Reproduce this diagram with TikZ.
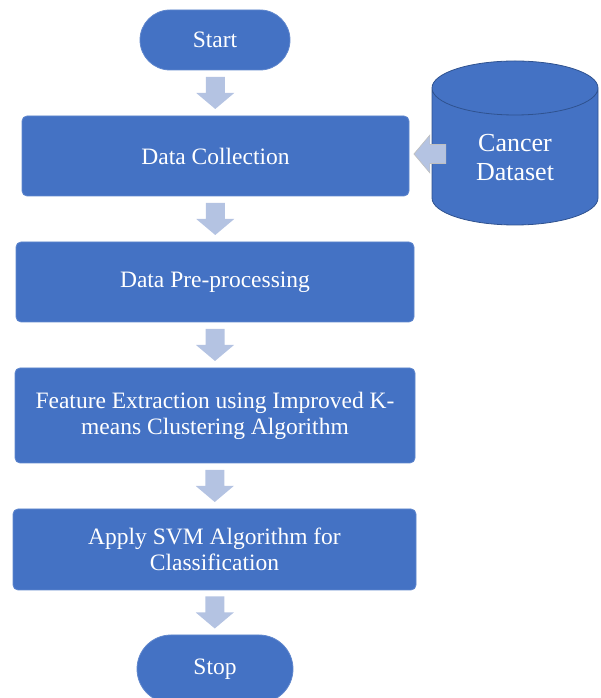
\documentclass[tikz,border=0pt]{standalone}
\usepackage{fontspec}
\setmainfont{Liberation Serif}
\usetikzlibrary{calc}
\definecolor{boxblue}{HTML}{4472C4}
\definecolor{boxedge}{HTML}{2F528F}
\definecolor{arrowblue}{HTML}{B4C3E2}
\tikzset{
  stepbox/.style={fill=boxblue,draw=boxblue!85!white,line width=0.8pt,rounded corners=5pt,
    text=white,align=center,font=\fontsize{23.5}{26}\selectfont},
  terminal/.style={stepbox,rounded corners=30pt},
  downarrow/.pic={\path[pic actions,fill=arrowblue] (-9.5,16)--(9.5,16)--(9.5,0)--(19,0)--(0,-16)--(-19,0)--(-9.5,0)--cycle;}
}
\begin{document}
\begin{tikzpicture}[x=1pt,y=1pt]
  \useasboundingbox (0,0) rectangle (600,698);
  % flow boxes
  \node[terminal,minimum width=150,minimum height=60] (start) at (215,658) {Start};
  \node[stepbox,minimum width=387,minimum height=80] (collect) at (215.5,542) {Data Collection};
  \node[stepbox,minimum width=398,minimum height=80] (prep) at (215,416) {Data Pre-processing};
  \node[stepbox,minimum width=400,minimum height=95] (feature) at (215,282.5) {Feature Extraction using Improved K-\\means Clustering Algorithm};
  \node[stepbox,minimum width=403,minimum height=81] (svm) at (214.5,148.5) {Apply SVM Algorithm for\\Classification};
  \node[terminal,rounded corners=34pt,minimum width=156,minimum height=68] (stop) at (215,29) {Stop};
  % dataset cylinder
  \draw[fill=boxblue,draw=boxedge,line width=0.8pt] (432,610) arc[start angle=180,end angle=360,x radius=83,y radius=27]
    arc[start angle=0,end angle=180,x radius=83,y radius=27] -- (432,500)
    arc[start angle=180,end angle=360,x radius=83,y radius=27] -- (598,610);
  \node[text=white,align=center,font=\fontsize{26}{29}\selectfont] (dataset) at (515,540) {Cancer\\Dataset};
  % block arrows
  \pic at ($(start.south)!0.5!(collect.north)$) {downarrow};
  \pic at ($(collect.south)!0.5!(prep.north)$) {downarrow};
  \pic at ($(prep.south)!0.5!(feature.north)$) {downarrow};
  \pic at ($(feature.south)!0.5!(svm.north)$) {downarrow};
  \pic at ($(svm.south)!0.5!(stop.north)$) {downarrow};
  \pic[rotate=-90,draw=gray!50,line width=0.6pt] at ($(collect.east)+(20.5,2)$) {downarrow};
\end{tikzpicture}
\end{document}
